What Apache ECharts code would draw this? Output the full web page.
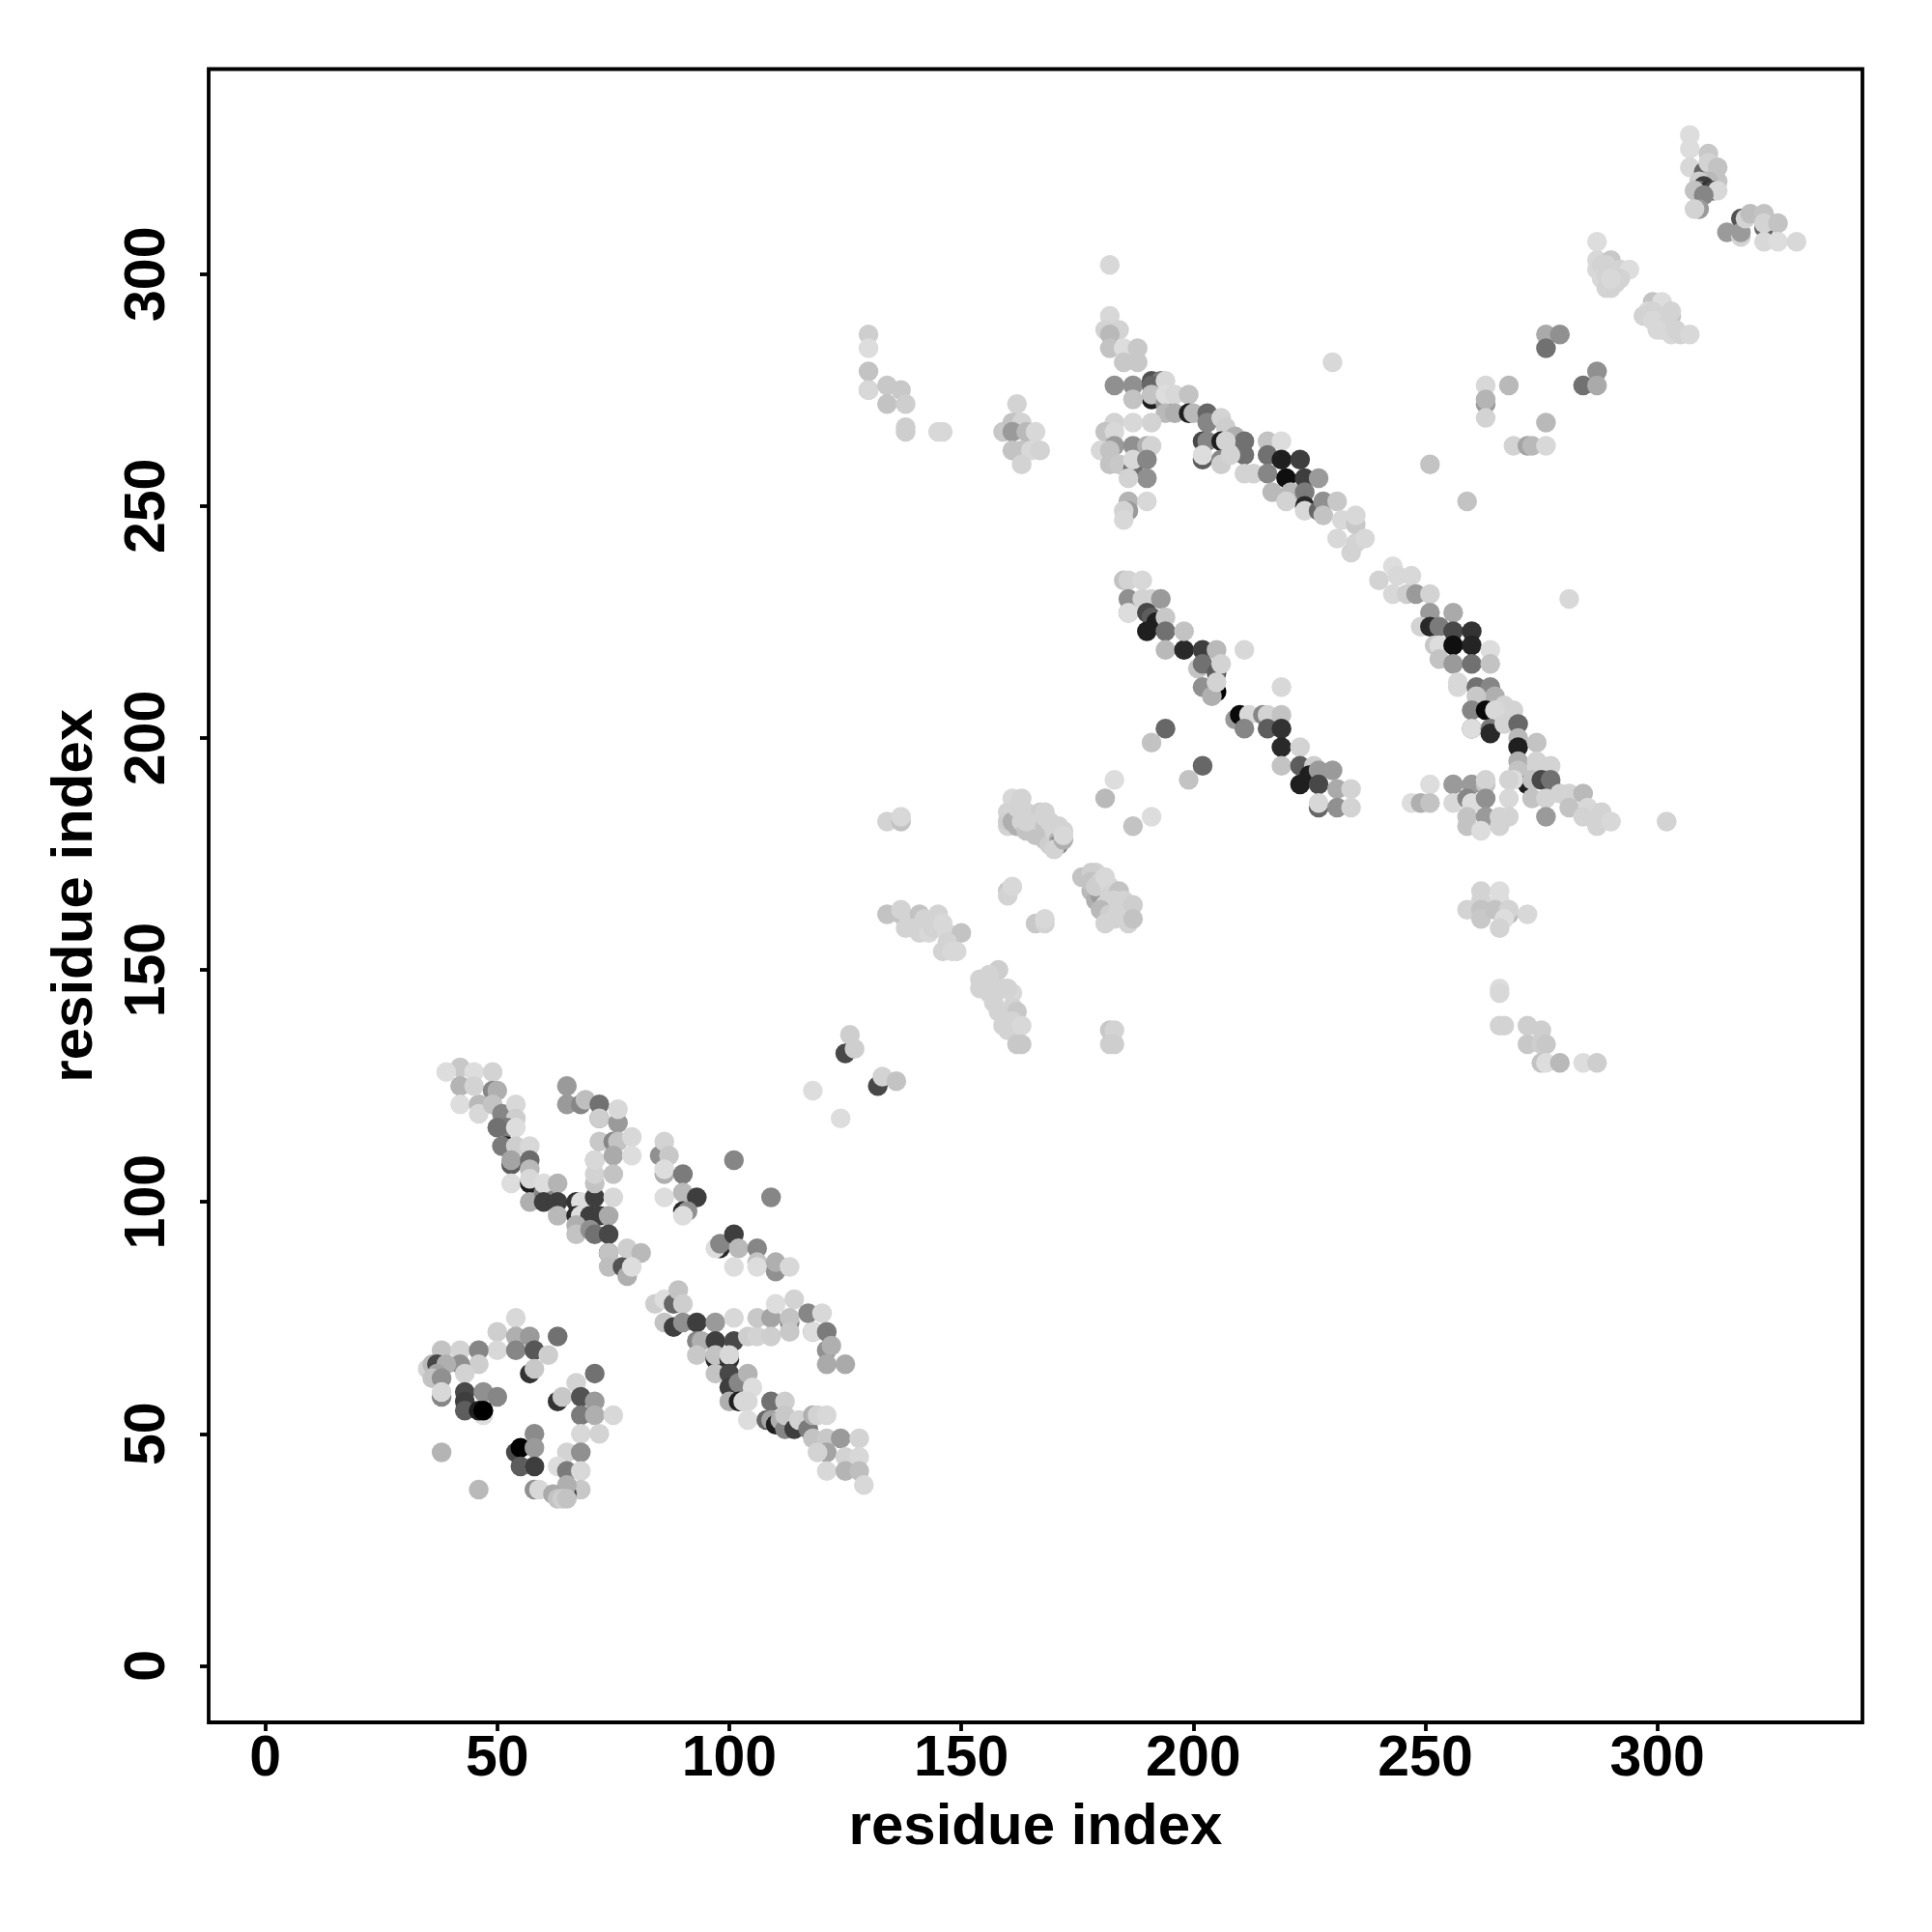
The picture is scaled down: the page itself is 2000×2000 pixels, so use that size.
<!DOCTYPE html>
<html><head><meta charset="utf-8">
<style>html,body{margin:0;padding:0;background:#fff}#c{width:2000px;height:2000px}</style>
<script src="https://cdn.jsdelivr.net/npm/echarts@6/dist/echarts.min.js"></script>
</head><body><div id="c"></div>
<script>
// Each entry: [residue x, residue y, grey level]
const tickValues = [0, 50, 100, 150, 200, 250, 300];
const xName = 'residue index';
const yName = 'residue index';
const strandA = [[42,129,195],[39,128,215],[45,128,215],[49,128,205],[42,125,175],[42,121,215],[46,121,180],[46,119,210],[45,125,205],[49,124,130],[50,124,170],[49,121,190],[51,119,130],[54,121,210],[54,118,200],[52,116,120],[50,116,110],[54,116,215],[52,112,30],[51,112,120],[54,112,200],[57,112,210],[53,108,90],[53,109,160],[57,109,105],[57,107,180],[53,104,215],[57,104,30],[57,105,210],[57,100,170],[60,102,130],[60,104,215],[63,104,175],[60,100,60],[63,100,60],[63,97,180],[67,100,50],[68,100,215],[71,101,60],[71,104,190],[71,106,205],[67,97,40],[68,97,215],[70,97,60],[72,97,60],[74,97,165],[67,95,170],[67,93,190],[70,94,140],[71,93,110],[74,93,70],[74,89,70],[74,89,190],[74,86,185],[77,86,80],[78,90,200],[81,89,180],[78,84,170],[79,86,215]];
const strandB = [[65,125,150],[65,121,150],[68,121,130],[69,122,185],[72,121,110],[72,118,120],[72,118,200],[76,117,150],[76,120,210],[71,109,180],[71,109,210],[72,113,195],[75,113,130],[76,113,190],[75,110,165],[79,114,210],[79,110,215],[75,106,190],[75,101,210]];
const strandC = [[85,110,140],[86,113,205],[87,110,195],[86,106,170],[86,107,215],[90,106,120],[86,101,215],[90,102,180],[93,101,60],[90,98,40],[91,98,140],[90,97,215],[101,109,130],[109,101,130],[98,90,40],[97,90,215],[98,91,130],[101,93,60],[102,90,180],[106,90,130],[101,86,215],[106,87,190],[106,86,215],[110,85,140],[110,87,170],[113,86,210]];
const diagA = [[84,78,200],[86,79,215],[88,78,100],[89,81,190],[90,78,200],[86,74,190],[88,73,60],[90,74,140],[93,74,60],[97,74,150],[101,75,210],[93,70,130],[94,70,170],[97,70,60],[101,70,70],[104,71,200],[106,71,205],[106,75,195],[109,75,160],[109,71,200],[110,78,215],[114,79,205],[113,74,130],[113,75,190],[113,72,195],[117,76,130],[120,76,210],[118,72,120],[118,72,215],[121,72,120],[121,68,140],[122,69,170],[121,65,165],[125,65,165],[93,67,195],[97,66,40],[97,67,190],[100,66,50],[100,67,210],[97,63,190],[100,63,70],[100,60,60],[102,61,130],[104,63,175],[105,60,215],[100,57,170],[102,57,30],[103,57,210],[104,57,210],[104,53,215],[109,57,110],[112,57,200],[108,53,100],[109,53,160],[110,52,30],[111,53,170],[112,51,130],[112,54,195],[114,51,60],[115,53,205],[117,51,120],[118,54,170],[119,54,205],[121,54,210],[118,49,190],[121,49,195],[124,49,150],[128,49,205],[121,46,160],[119,46,205],[125,45,205],[128,45,210],[121,42,210],[125,42,175],[128,42,185],[129,39,210]];
const cornerA = [[54,75,210],[50,72,200],[54,71,170],[57,71,150],[63,71,110],[50,68,210],[54,68,130],[58,68,85],[61,67,200],[38,68,190],[42,68,205],[46,68,130],[46,65,200],[42,65,140],[43,63,205],[57,63,50],[58,64,195],[35,64,205],[36,65,180],[37,65,70],[39,65,170],[37,63,160],[36,62,190],[38,62,140],[38,58,130],[38,59,210],[43,59,70],[47,59,140],[50,58,130],[43,57,60],[43,55,90],[47,54,215],[46,55,30],[47,55,0],[63,57,50],[64,58,195],[67,61,205],[71,63,110],[68,58,80],[71,57,150],[68,54,120],[71,54,170],[75,54,210],[68,50,210],[72,50,205]];
const cornerB = [[38,46,175],[46,38,180],[54,46,70],[55,47,0],[58,50,135],[58,47,150],[55,43,90],[58,43,215],[58,43,60],[65,46,205],[68,46,140],[63,43,215],[65,42,120],[68,42,210],[58,38,140],[59,38,210],[68,38,195],[65,37,60],[65,39,170],[62,37,165],[63,36,190],[64,36,200],[65,36,190]];
const sparseLow = [[126,136,200],[125,132,70],[127,133,200],[118,124,215],[124,118,215],[132,125,70],[133,127,205],[136,126,190]];
const midA = [[134,182,205],[137,182,190],[137,183,210],[134,162,190],[137,162,190],[137,163,205],[138,159,205],[139,161,205],[141,162,190],[141,158,205],[140,159,205],[143,158,210],[142,161,205],[144,159,205],[145,162,205],[146,160,210],[147,158,210],[150,158,190],[147,156,205],[146,154,205],[148,154,210],[149,154,210]];
const midB = [[158,150,200],[154,148,205],[154,146,205],[156,147,205],[156,149,205],[156,145,205],[157,146,205],[159,146,205],[161,145,210],[160,146,205],[157,143,205],[158,141,205],[160,141,205],[161,142,205],[162,141,195],[159,138,205],[161,139,205],[160,137,205],[163,138,210],[162,134,195],[163,134,195]];
const midC = [[161,187,210],[163,187,205],[160,184,205],[160,181,205],[160,182,200],[161,183,205],[161,182,170],[162,181,170],[162,185,205],[163,182,205],[164,184,205],[164,180,190],[165,183,205],[166,181,170],[166,179,190],[167,184,200],[164,182,205],[168,184,205],[167,182,205],[168,181,190],[168,178,190],[168,183,205],[169,179,190],[169,177,200],[169,182,205],[170,180,205],[171,178,170],[171,177,130],[170,176,205],[172,178,170],[172,180,205],[171,181,205],[172,179,210],[160,167,195],[160,166,205],[161,168,210],[166,160,195],[168,160,205],[168,161,210]];
const midD = [[177,170,130],[176,170,190],[178,167,180],[179,171,205],[178,171,200],[178,169,190],[179,165,170],[180,166,150],[180,169,205],[179,168,200],[181,170,210],[182,168,210],[182,166,205],[184,167,190],[183,165,205],[181,164,205],[180,163,180],[181,162,180],[182,162,200],[181,160,205],[183,161,205],[184,163,205],[185,165,205],[185,162,205],[186,160,205],[187,164,200],[187,161,190],[183,191,215],[181,187,180],[187,181,190],[191,183,215],[182,137,195],[183,137,205],[182,134,200],[183,134,200]];
const helixA = [[185,234,190],[186,234,205],[189,234,210],[186,230,140],[189,230,205],[191,230,205],[193,230,150],[186,227,130],[186,227,215],[190,227,70],[191,226,90],[192,225,30],[190,223,30],[194,226,195],[194,223,110],[194,219,180],[198,219,40],[198,223,190],[202,219,60],[205,219,180],[201,215,190],[202,216,110],[205,214,90],[206,216,205],[205,210,0],[202,211,140],[204,209,170],[205,212,205],[211,219,210],[219,211,210],[194,202,100],[191,199,190],[202,194,100],[199,191,190],[209,204,150],[210,205,10],[212,205,210],[211,202,130],[215,205,130],[216,205,205],[219,205,190],[216,202,90],[219,202,50],[219,198,40],[223,198,205],[219,194,190],[223,194,90],[226,194,200],[223,190,30],[225,192,30],[227,193,150],[227,190,70],[230,193,150],[231,189,165],[234,189,205],[227,185,100],[227,186,210],[231,185,140],[234,185,205]];
const helixB = [[243,237,215],[240,234,205],[244,235,210],[247,235,210],[243,231,210],[246,231,200],[248,231,150],[251,231,205],[251,227,150],[256,227,165],[249,224,205],[251,224,40],[253,224,120],[256,223,70],[260,223,50],[252,220,195],[253,220,215],[256,220,15],[260,220,35],[264,219,215],[253,217,190],[256,216,150],[260,216,110],[264,216,190],[257,212,210],[257,211,210],[261,211,110],[264,211,130],[265,209,170],[261,209,195],[267,207,205],[269,206,205],[260,206,130],[263,206,10],[265,206,210],[260,202,100],[260,202,215],[264,202,120],[264,201,40],[267,203,205],[270,203,100],[270,200,180],[270,198,30],[274,199,190],[270,195,170],[274,195,205],[270,193,190],[274,194,205],[277,194,205],[272,190,30],[269,191,215],[268,191,205],[273,191,190],[275,191,70],[277,190,60],[277,191,110],[273,187,190],[276,187,205],[276,183,150],[279,188,205],[281,188,205],[284,188,180],[281,185,190],[285,185,210],[284,183,205],[288,184,205],[287,181,205],[290,182,210],[281,230,210],[302,182,205]];
const helixBFoot = [[251,190,215],[256,190,150],[260,190,150],[263,190,190],[263,191,205],[247,186,215],[249,186,170],[251,186,190],[256,186,210],[259,187,130],[260,186,215],[263,187,140],[268,187,210],[259,183,190],[259,181,190],[263,183,150],[266,183,205],[268,183,205],[262,180,215],[266,181,205]];
const lowRight = [[262,167,205],[266,167,215],[262,165,205],[266,165,215],[259,163,205],[262,163,190],[262,161,195],[265,163,190],[268,162,180],[268,163,205],[267,161,215],[272,162,210],[266,159,205],[266,146,215],[266,145,210],[266,138,205],[267,138,205],[272,138,200],[272,134,195],[275,137,200],[275,134,200],[276,134,195],[275,130,190],[276,130,215],[279,130,180],[284,130,215],[287,130,200]];
const helixC = [[182,302,210],[182,291,210],[181,288,205],[184,288,205],[182,287,180],[182,284,190],[185,284,215],[188,284,195],[185,281,195],[188,281,195],[183,276,140],[187,276,140],[191,277,80],[193,277,120],[191,276,100],[194,277,210],[191,273,30],[191,274,190],[187,273,190],[194,272,150],[194,274,215],[196,274,210],[199,274,190],[194,270,180],[196,270,170],[191,268,205],[199,270,30],[200,270,180],[203,270,100],[203,268,130],[206,269,205],[207,267,200],[209,265,170],[211,264,110],[211,261,110],[202,264,70],[203,264,130],[202,260,90],[202,261,215],[206,264,30],[207,264,205],[206,260,130],[206,259,200],[208,261,205],[211,257,205],[213,257,205]];
const helixCFoot = [[183,268,205],[187,268,210],[181,266,190],[183,266,210],[183,263,150],[187,263,140],[180,262,210],[182,262,190],[190,263,170],[191,263,205],[182,259,190],[184,259,195],[187,258,110],[187,260,210],[190,260,130],[190,256,140],[186,256,205],[186,251,175],[190,251,210],[186,249,150],[185,249,205],[185,247,210]];
const helixD = [[216,264,190],[219,264,215],[216,261,110],[219,260,30],[223,260,60],[216,257,130],[220,256,15],[224,256,60],[227,256,150],[217,253,180],[221,253,180],[224,253,120],[224,250,40],[220,251,205],[224,249,210],[227,249,100],[228,251,140],[231,251,195],[228,248,190],[232,247,210],[235,246,195],[235,248,210],[231,243,210],[234,240,205],[235,242,205],[237,243,210]];
const upperLeft = [[130,287,200],[130,284,215],[130,279,190],[130,275,180],[130,275,210],[134,276,195],[137,275,195],[134,272,190],[138,272,200],[138,267,200],[138,266,200],[145,266,210],[146,266,210],[162,272,205],[159,266,195],[161,268,190],[163,268,205],[161,266,150],[164,266,180],[166,266,210],[161,262,190],[163,262,190],[165,262,210],[167,262,205],[163,259,205]];
const upperRight = [[230,281,210],[251,259,190],[259,251,190],[263,276,210],[268,276,180],[263,272,150],[263,273,175],[263,269,205],[269,263,205],[272,263,160],[273,263,180],[276,263,210],[276,268,180],[276,287,165],[279,287,140],[276,284,110],[287,279,140],[284,276,110],[287,276,165]];
const tailA = [[287,307,215],[287,303,210],[290,303,195],[287,301,210],[290,301,200],[288,302,205],[289,302,205],[291,299,205],[292,301,205],[294,301,215],[288,299,210],[289,297,205],[290,297,205],[291,298,205],[292,299,205],[289,300,205],[290,299,210],[299,294,190],[301,294,215],[298,292,210],[297,291,205],[299,292,205],[300,291,205],[303,291,190],[303,292,205],[301,290,205],[299,290,210],[301,288,205],[302,289,205],[300,288,210],[303,287,210],[304,288,205],[305,287,205],[307,287,210]];
const tailB = [[307,330,215],[307,327,215],[307,323,210],[311,326,195],[310,322,100],[312,322,150],[311,324,205],[313,323,190],[313,320,190],[310,320,140],[311,320,180],[309,320,200],[310,319,60],[309,318,110],[311,318,50],[312,318,70],[308,318,190],[313,318,210],[310,317,130],[309,314,150],[308,314,205],[315,309,150],[318,312,80],[318,308,205],[318,309,150],[319,312,205],[320,313,185],[323,310,100],[323,313,190],[323,311,205],[326,311,190],[323,307,210],[326,307,215],[330,307,210]];

const allContacts = [].concat(strandA, strandB, strandC, diagA, cornerA, cornerB, sparseLow, midA, midB, midC, midD, helixA, helixB, helixBFoot, lowRight, helixC, helixCFoot, helixD, upperLeft, upperRight, tailA, tailB);

const FONT = '"Liberation Sans", Arial, sans-serif';
const axisCommon = {
  type: 'value', min: -12.2, max: 344.2, nameLocation: 'middle',
  nameTextStyle: {fontFamily: FONT, fontWeight: 'bold', fontSize: 60, color: '#000'},
  axisLine: {show: false, onZero: false},
  splitLine: {show: false},
  axisTick: {show: true, length: 9, inside: false, customValues: tickValues, lineStyle: {color: '#000', width: 3.8}},
};
const labelCommon = {show: true, customValues: tickValues, fontFamily: FONT, fontWeight: 'bold', fontSize: 59, color: '#000'};
const chart = echarts.init(document.getElementById('c'), null, {renderer: 'canvas', width: 2000, height: 2000});
const grey = g => { const v = Math.round(g + g / 215 * 6); return 'rgb(' + v + ',' + v + ',' + v + ')'; };
chart.setOption({
  animation: false,
  backgroundColor: '#fff',
  grid: {left: 216, top: 71.5, width: 1712, height: 1711.5, show: true, borderColor: '#000', borderWidth: 3.8, backgroundColor: '#fff', containLabel: false},
  xAxis: Object.assign({}, axisCommon, {name: xName, nameGap: 79, axisLabel: Object.assign({}, labelCommon, {margin: 9})}),
  yAxis: Object.assign({}, axisCommon, {name: yName, nameGap: 108, axisLabel: Object.assign({}, labelCommon, {rotate: 90, margin: 33})}),
  series: [{
    type: 'scatter', symbol: 'circle', symbolSize: 20.5, large: false, progressive: 0, clip: false,
    data: allContacts,
    itemStyle: {opacity: 1, color: p => grey(p.value[2])}
  }]
});
</script></body></html>
